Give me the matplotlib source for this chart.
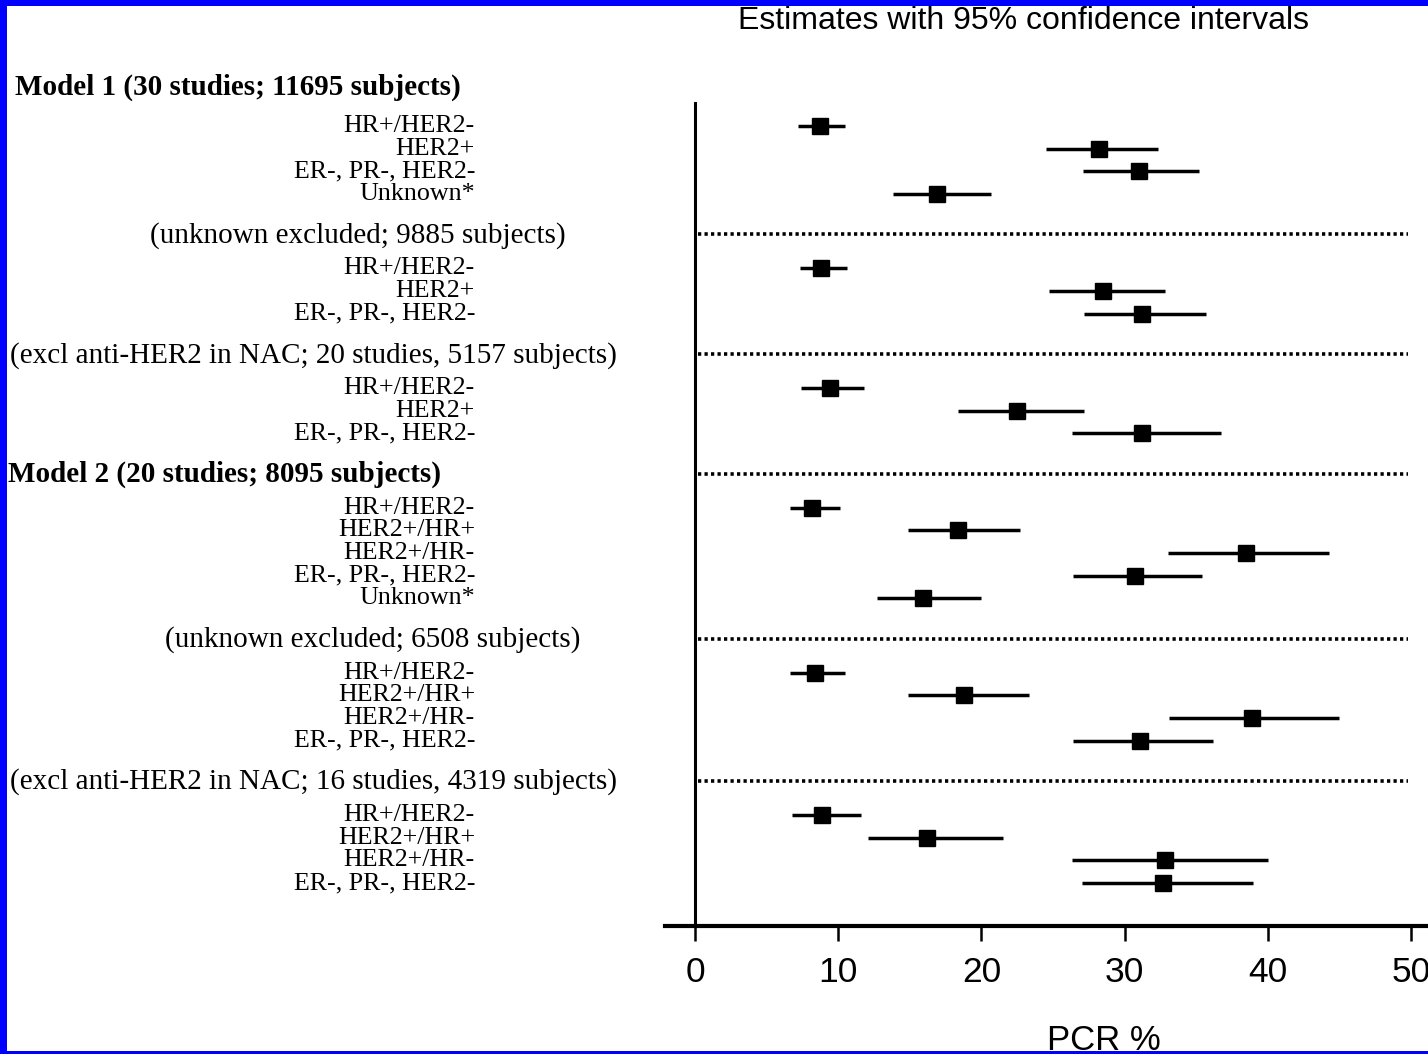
import numpy as np
import matplotlib.pyplot as plt
from matplotlib.patches import Rectangle
from matplotlib.transforms import blended_transform_factory

# group headers
headers = [
    "Model 1 (30 studies; 11695 subjects)",
    "(unknown excluded; 9885 subjects)",
    "(excl anti-HER2 in NAC; 20 studies, 5157 subjects)",
    "Model 2 (20 studies; 8095 subjects)",
    "(unknown excluded; 6508 subjects)",
    "(excl anti-HER2 in NAC; 16 studies, 4319 subjects)",
]
header_bold = [True, False, False, True, False, False]

labels = [
    ["HR+/HER2-", "HER2+", "ER-, PR-, HER2-", "Unknown*"],
    ["HR+/HER2-", "HER2+", "ER-, PR-, HER2-"],
    ["HR+/HER2-", "HER2+", "ER-, PR-, HER2-"],
    ["HR+/HER2-", "HER2+/HR+", "HER2+/HR-", "ER-, PR-, HER2-", "Unknown*"],
    ["HR+/HER2-", "HER2+/HR+", "HER2+/HR-", "ER-, PR-, HER2-"],
    ["HR+/HER2-", "HER2+/HR+", "HER2+/HR-", "ER-, PR-, HER2-"],
]

# PCR % estimates with 95% CI
est = [
    [8.7, 28.2, 31.0, 16.9],
    [8.8, 28.5, 31.2],
    [9.4, 22.5, 31.2],
    [8.2, 18.4, 38.5, 30.7, 15.9],
    [8.4, 18.8, 38.9, 31.1],
    [8.9, 16.2, 32.8, 32.7],
]
lo = [
    [7.2, 24.5, 27.1, 13.8],
    [7.3, 24.7, 27.2],
    [7.4, 18.4, 26.3],
    [6.6, 14.9, 33.0, 26.4, 12.7],
    [6.6, 14.9, 33.1, 26.4],
    [6.8, 12.1, 26.3, 27.0],
]
hi = [
    [10.5, 32.3, 35.2, 20.7],
    [10.6, 32.8, 35.7],
    [11.8, 27.2, 36.7],
    [10.1, 22.7, 44.3, 35.4, 20.0],
    [10.5, 23.3, 45.0, 36.2],
    [11.6, 21.5, 40.0, 39.0],
]

xticks = [0, 10, 20, 30, 40, 50]

W, H = 1428, 1054
fig = plt.figure(figsize=(W / 100, H / 100), dpi=100, facecolor="#0000fe")
fig.patches.append(Rectangle((7 / W, 3 / H), 1 - 7 / W, 1 - 9 / H,
                             transform=fig.transFigure, facecolor="white",
                             edgecolor="none", zorder=-10))

ax = fig.add_axes([665 / W, 1 - 925.7 / H, 1 - 665 / W, (925.7 - 103) / H])
ax.set_facecolor("none")
ax.set_xlim(-2.095, 51.19)
ax.set_ylim(35.23, -1.013)

for s in ["top", "right", "left"]:
    ax.spines[s].set_visible(False)
ax.spines["bottom"].set_linewidth(3)
ax.set_yticks([])
ax.set_xticks(xticks)
ax.tick_params(axis="x", direction="out", length=11, width=1.8, pad=11,
               labelsize=25.5)
for t in ax.get_xticklabels():
    t.set_fontfamily("Liberation Sans")

ax.plot([0, 0], [-1.013, 35.23], color="black", lw=2.2, clip_on=False)

serif = "Liberation Serif"
lab_tr = blended_transform_factory(fig.transFigure, ax.transData)
header_x = [15, 150, 10, 8, 165, 10]

step = 1.0
gap = 3.27
pos = 0.0
for g in range(len(headers)):
    ys = pos + step * np.arange(len(labels[g]))
    ax.errorbar(est[g], ys,
                xerr=[np.array(est[g]) - np.array(lo[g]),
                      np.array(hi[g]) - np.array(est[g])],
                fmt="s", color="black", ms=11, elinewidth=2.5, capsize=0)
    for y, lab in zip(ys, labels[g]):
        ax.text(475 / W, y, lab, transform=lab_tr, ha="right", va="center",
                fontsize=18.7, family=serif)
    hy = pos - (1.72 if g == 0 else 1.45)
    ax.text(header_x[g] / W, hy, headers[g], transform=lab_tr, ha="left",
            va="center", fontsize=21, family=serif,
            fontweight="bold" if header_bold[g] else "normal")
    if g > 0:
        ax.plot([0.2, 49.8], [pos - 1.5, pos - 1.5], color="black", lw=2.6,
                linestyle=(0, (0.9, 0.9)))
    pos = ys[-1] + gap

fig.text(1024 / W, 1 - 21 / H, "Estimates with 95% confidence intervals",
         ha="center", va="center", fontsize=23, family="Liberation Sans")
fig.text(1104 / W, 1 - 1040 / H, "PCR %", ha="center", va="center",
         fontsize=25, family="Liberation Sans")

fig.savefig("out.png", dpi=100, facecolor=fig.get_facecolor())
